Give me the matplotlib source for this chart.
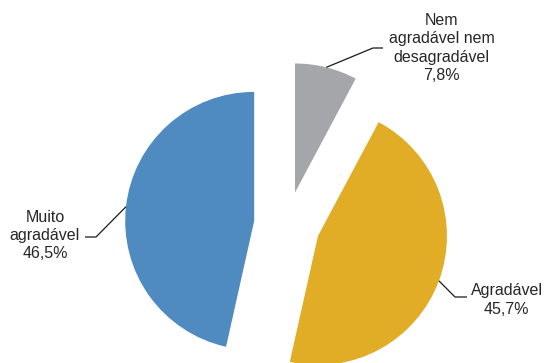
import numpy as np
import matplotlib
matplotlib.use("Agg")
import matplotlib.pyplot as plt

categories = ["Nem\nagradável nem\ndesagradável", "Agradável", "Muito\nagradável"]
values = [7.8, 45.7, 46.5]
value_labels = ["7,8%", "45,7%", "46,5%"]
colors = ["#A5A6AA", "#E1AD27", "#4F8BC0"]

W, H = 544, 363
fig = plt.figure(figsize=(W / 100, H / 100), dpi=100)
ax = fig.add_axes([0, 0, 1, 1])

center = (287, 138.5)
radius = 129
explode = 33

wedges, _ = ax.pie(values, colors=colors, startangle=90, counterclock=False,
                   center=center, radius=radius, explode=[explode] * 3,
                   wedgeprops=dict(linewidth=0))
ax.set_xlim(0, W)
ax.set_ylim(0, H)
ax.set_aspect("equal")
ax.axis("off")

# label layout: (text x, text y, elbow x, elbow y, end x)
layout = [
    (441.5, 315, 373, 315, 383),
    (506.5, 63, 455, 66, 467),
    (45, 127.5, 96, 126, 85),
]

for w, cat, vl, (tx, ty, ex, ey, endx) in zip(wedges, categories, value_labels, layout):
    mid = np.deg2rad((w.theta1 + w.theta2) / 2)
    cx, cy = w.center
    px = cx + w.r * np.cos(mid)
    py = cy + w.r * np.sin(mid)
    ax.plot([px, ex, endx], [py, ey, ey], color="#1a1a1a", lw=0.9,
            solid_capstyle="butt")
    ax.text(tx, ty, cat + "\n" + vl, ha="center", va="center", fontsize=11.5,
            color="#262626", linespacing=1.28, family=["Liberation Sans", "DejaVu Sans"])

fig.savefig("out.png", dpi=100)
